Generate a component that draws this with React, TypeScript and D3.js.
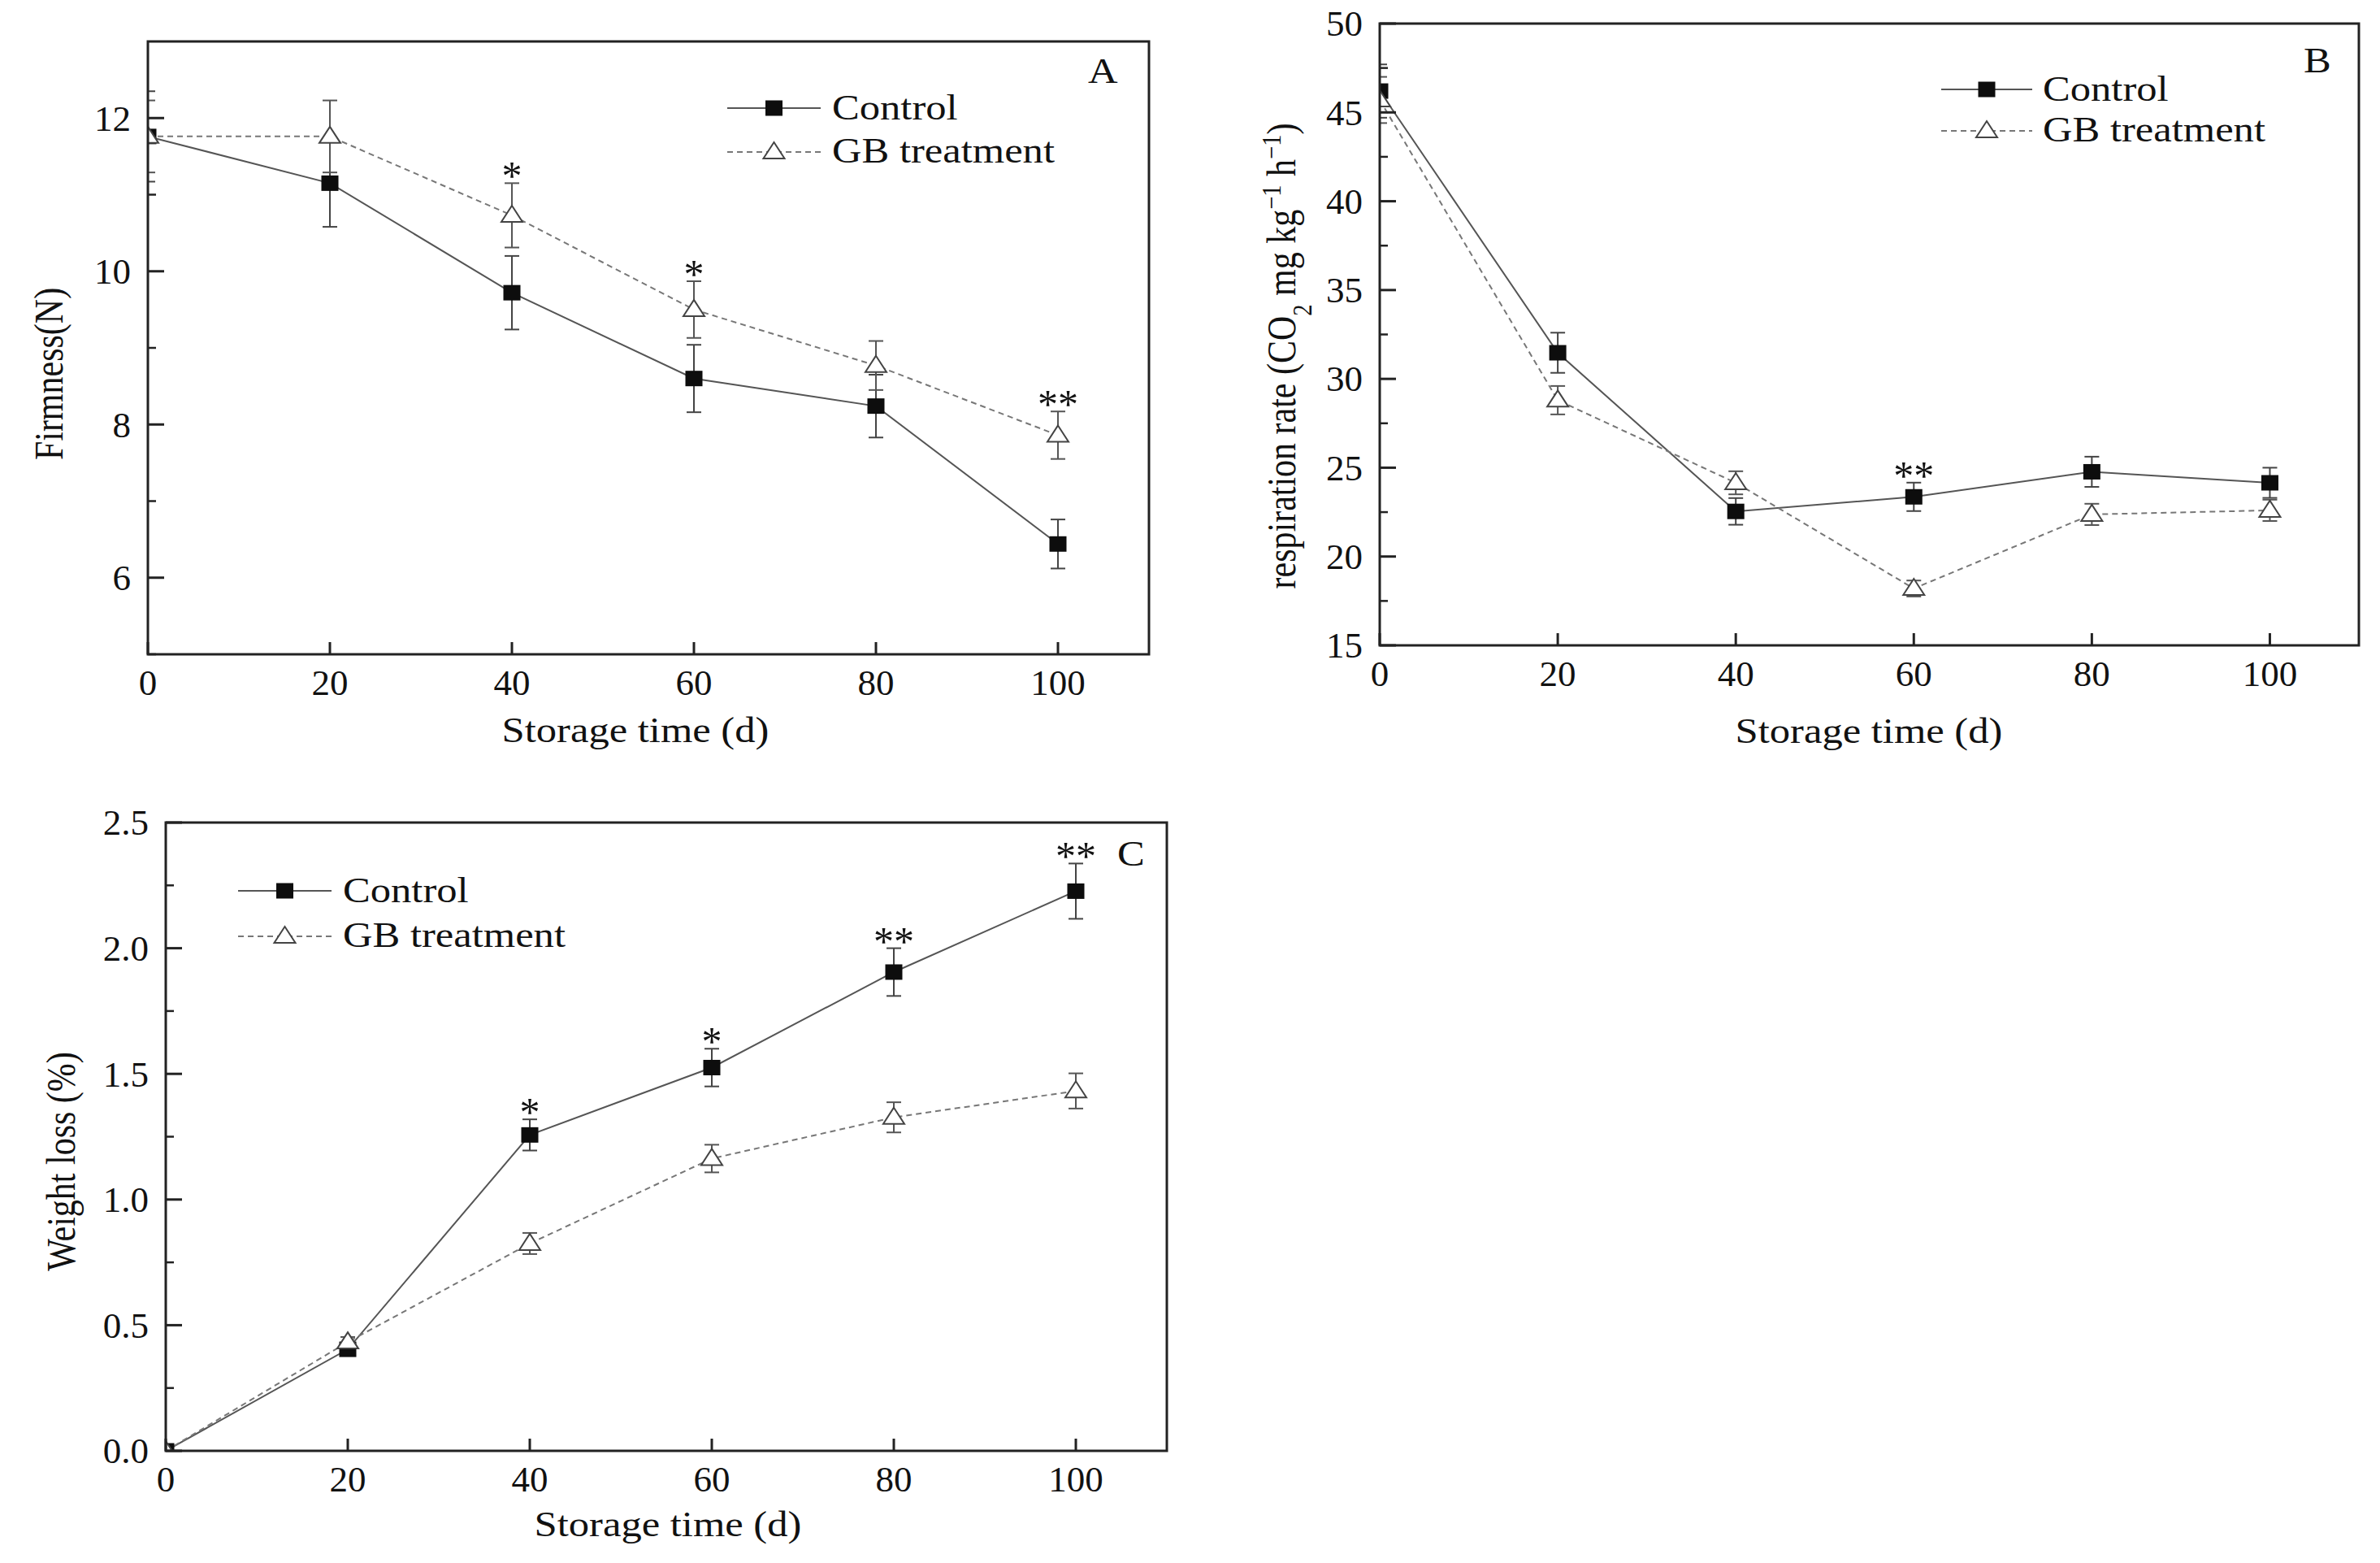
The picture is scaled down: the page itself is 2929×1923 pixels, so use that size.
import React from "react";
import * as d3 from "d3";

// storage days
const days = [0, 20, 40, 60, 80, 100];
const xTicks = [0, 20, 40, 60, 80, 100];

// A: firmness (N)
const firmControl = [11.76, 11.15, 9.72, 8.6, 8.24, 6.44];
const firmControlErr = [0.59, 0.57, 0.48, 0.44, 0.41, 0.32];
const firmGB = [11.76, 11.76, 10.73, 9.5, 8.77, 7.86];
const firmGBErr = [0.47, 0.47, 0.42, 0.37, 0.32, 0.31];
const firmSig = ["", "", "*", "*", "", "**"];
const firmTicks = [6, 8, 10, 12];
const firmMinor = [5, 7, 9, 11];

// B: respiration rate
const respControl = [46.2, 31.47, 22.54, 23.36, 24.77, 24.15];
const respControlErr = [1.5, 1.13, 0.75, 0.8, 0.85, 0.85];
const respGB = [45.7, 28.8, 24.15, 18.2, 22.37, 22.6];
const respGBErr = [1.3, 0.8, 0.65, 0.45, 0.6, 0.6];
const respSig = ["", "", "", "**", "", ""];
const respTicks = [15, 20, 25, 30, 35, 40, 45, 50];
const respMinor = [17.5, 22.5, 27.5, 32.5, 37.5, 42.5, 47.5];

// C: weight loss (%)
const wlControl = [0, 0.404, 1.257, 1.525, 1.905, 2.227];
const wlControlErr = [0, 0.015, 0.062, 0.075, 0.095, 0.11];
const wlGB = [0, 0.433, 0.825, 1.163, 1.327, 1.432];
const wlGBErr = [0, 0.02, 0.042, 0.055, 0.06, 0.07];
const wlSig = ["", "", "*", "*", "**", "**"];
const wlTicks = [0, 0.5, 1, 1.5, 2, 2.5];
const wlMinor = [0.25, 0.75, 1.25, 1.75, 2.25];

const FONT = "'Liberation Serif', 'Times New Roman', serif";
const INK = "#111";
const STRETCH = 1.15;

interface PanelSpec {
  id: string;
  box: { left: number; right: number; top: number; bottom: number };
  yDomain: [number, number];
  yTicks: number[];
  yMinor: number[];
  yFormat: (v: number) => string;
  control: number[];
  controlErr: number[];
  gb: number[];
  gbErr: number[];
  sig: string[];
  letter: string;
  letterPos: [number, number];
  legend: { x0: number; x1: number; y1: number; y2: number; textX: number };
  xTitle: [number, number];
  yTitle: { x: number; y: number; content: React.ReactNode };
}

const panels: PanelSpec[] = [
  {
    id: "A",
    box: { left: 182, right: 1414, top: 51, bottom: 805 },
    yDomain: [5, 13],
    yTicks: firmTicks,
    yMinor: firmMinor,
    yFormat: (v) => String(v),
    control: firmControl,
    controlErr: firmControlErr,
    gb: firmGB,
    gbErr: firmGBErr,
    sig: firmSig,
    letter: "A",
    letterPos: [1339, 102],
    legend: { x0: 895, x1: 1010, y1: 133, y2: 187, textX: 1024 },
    xTitle: [782, 913],
    yTitle: { x: 77, y: 460, content: "Firmness(N)" },
  },
  {
    id: "B",
    box: { left: 1698, right: 2903, top: 29, bottom: 794 },
    yDomain: [15, 50],
    yTicks: respTicks,
    yMinor: respMinor,
    yFormat: (v) => String(v),
    control: respControl,
    controlErr: respControlErr,
    gb: respGB,
    gbErr: respGBErr,
    sig: respSig,
    letter: "B",
    letterPos: [2835, 89],
    legend: { x0: 2389, x1: 2501, y1: 110, y2: 161, textX: 2514 },
    xTitle: [2300, 914],
    yTitle: {
      x: 1594,
      y: 438,
      content: (
        <>
          {"respiration rate (CO"}
          <tspan baselineShift="sub" fontSize="0.68em">2</tspan>
          {" mg kg"}
          <tspan baselineShift="super" fontSize="0.68em">{"\u22121"}</tspan>
          {" h"}
          <tspan baselineShift="super" fontSize="0.68em">{"\u22121"}</tspan>
          {")"}
        </>
      ),
    },
  },
  {
    id: "C",
    box: { left: 204, right: 1436, top: 1012, bottom: 1785 },
    yDomain: [0, 2.5],
    yTicks: wlTicks,
    yMinor: wlMinor,
    yFormat: d3.format(".1f"),
    control: wlControl,
    controlErr: wlControlErr,
    gb: wlGB,
    gbErr: wlGBErr,
    sig: wlSig,
    letter: "C",
    letterPos: [1375, 1065],
    legend: { x0: 293, x1: 408, y1: 1096, y2: 1152, textX: 422 },
    xTitle: [822, 1890],
    yTitle: { x: 92, y: 1429, content: "Weight loss (%)" },
  },
];

const Square = ({ x, y }: { x: number; y: number }) => (
  <rect x={x - 10.5} y={y - 9.5} width={21} height={19} fill="#0d0d0d" />
);

const Triangle = ({ x, y }: { x: number; y: number }) => (
  <path
    d={`M${x},${y - 12}L${x + 13},${y + 8}L${x - 13},${y + 8}Z`}
    fill="#fff"
    stroke="#444"
    strokeWidth={2}
  />
);

const StretchText = ({
  x,
  y,
  size,
  anchor = "start",
  children,
}: {
  x: number;
  y: number;
  size: number;
  anchor?: "start" | "middle" | "end";
  children: React.ReactNode;
}) => (
  <text
    transform={`translate(${x},${y}) scale(${STRETCH},1)`}
    textAnchor={anchor}
    fontSize={size}
    fill={INK}
  >
    {children}
  </text>
);

const Panel = ({ p }: { p: PanelSpec }) => {
  const { left, right, top, bottom } = p.box;
  const x = d3.scaleLinear().domain([0, 110]).range([left, right]);
  const y = d3.scaleLinear().domain(p.yDomain).range([bottom, top]);

  const line = d3
    .line<number>()
    .x((_, i) => x(days[i]))
    .y((v) => y(v));

  const errorBars = (vals: number[], errs: number[], color: string) =>
    vals.map((v, i) =>
      errs[i] > 0 ? (
        <g key={i} stroke={color} strokeWidth={2}>
          <line x1={x(days[i])} x2={x(days[i])} y1={y(v - errs[i])} y2={y(v + errs[i])} />
          <line x1={x(days[i]) - 9} x2={x(days[i]) + 9} y1={y(v - errs[i])} y2={y(v - errs[i])} />
          <line x1={x(days[i]) - 9} x2={x(days[i]) + 9} y1={y(v + errs[i])} y2={y(v + errs[i])} />
        </g>
      ) : null
    );

  const clipId = `clip-${p.id}`;
  const lg = p.legend;
  const lgMid = (lg.x0 + lg.x1) / 2;

  return (
    <g>
      <defs>
        <clipPath id={clipId}>
          <rect x={left} y={top} width={right - left} height={bottom - top} />
        </clipPath>
      </defs>

      <g clipPath={`url(#${clipId})`}>
        <path d={line(p.control) || ""} fill="none" stroke="#555" strokeWidth={2} />
        <path
          d={line(p.gb) || ""}
          fill="none"
          stroke="#777"
          strokeWidth={2}
          strokeDasharray="7 5"
        />
        {errorBars(p.control, p.controlErr, "#444")}
        {errorBars(p.gb, p.gbErr, "#555")}
        {p.control.map((v, i) => (
          <Square key={`c${i}`} x={x(days[i])} y={y(v)} />
        ))}
        {p.gb.map((v, i) => (
          <Triangle key={`g${i}`} x={x(days[i])} y={y(v)} />
        ))}
      </g>

      {/* significance marks */}
      {p.sig.map((s, i) => {
        if (!s) return null;
        const capY = Math.min(
          y(p.control[i] + p.controlErr[i]),
          y(p.gb[i] + p.gbErr[i])
        );
        const cy = capY - 16;
        return (
          <text
            key={`s${i}`}
            x={x(days[i])}
            y={cy + 24}
            textAnchor="middle"
            fontSize={50}
            fill={INK}
          >
            {s}
          </text>
        );
      })}

      {/* frame */}
      <rect
        x={left}
        y={top}
        width={right - left}
        height={bottom - top}
        fill="none"
        stroke="#222"
        strokeWidth={3}
      />

      {/* x ticks */}
      {xTicks.map((t) => (
        <g key={`xt${t}`}>
          <line x1={x(t)} x2={x(t)} y1={bottom} y2={bottom - 15} stroke="#222" strokeWidth={3} />
          <text x={x(t)} y={bottom + 50} textAnchor="middle" fontSize={45} fill={INK}>
            {t}
          </text>
        </g>
      ))}

      {/* y ticks */}
      {p.yTicks.map((t) => (
        <g key={`yt${t}`}>
          <line x1={left} x2={left + 20} y1={y(t)} y2={y(t)} stroke="#222" strokeWidth={3} />
          <text
            x={left - 21}
            y={y(t)}
            dy="0.34em"
            textAnchor="end"
            fontSize={45}
            fill={INK}
          >
            {p.yFormat(t)}
          </text>
        </g>
      ))}
      {p.yMinor.map((t) => (
        <line
          key={`ym${t}`}
          x1={left}
          x2={left + 10}
          y1={y(t)}
          y2={y(t)}
          stroke="#222"
          strokeWidth={2.5}
        />
      ))}

      {/* titles */}
      <StretchText x={p.xTitle[0]} y={p.xTitle[1]} size={44} anchor="middle">
        Storage time (d)
      </StretchText>
      <text
        transform={`translate(${p.yTitle.x},${p.yTitle.y}) rotate(-90) scale(1,1.2)`}
        textAnchor="middle"
        fontSize={42}
        fill={INK}
      >
        {p.yTitle.content}
      </text>

      <StretchText x={p.letterPos[0]} y={p.letterPos[1]} size={44}>
        {p.letter}
      </StretchText>

      {/* legend */}
      <line x1={lg.x0} x2={lg.x1} y1={lg.y1} y2={lg.y1} stroke="#555" strokeWidth={2} />
      <Square x={lgMid} y={lg.y1} />
      <StretchText x={lg.textX} y={lg.y1 + 14} size={44}>
        Control
      </StretchText>
      <line
        x1={lg.x0}
        x2={lg.x1}
        y1={lg.y2}
        y2={lg.y2}
        stroke="#777"
        strokeWidth={2}
        strokeDasharray="7 5"
      />
      <Triangle x={lgMid} y={lg.y2} />
      <StretchText x={lg.textX} y={lg.y2 + 13} size={44}>
        GB treatment
      </StretchText>
    </g>
  );
};

const App: React.FC = () => {
  return (
    <div style={{ position: "absolute", left: 0, top: 0 }}>
      <svg
        width={2929}
        height={1923}
        style={{ display: "block", background: "#fff", fontFamily: FONT }}
      >
        <rect width={2929} height={1923} fill="#fff" />
        {panels.map((p) => (
          <Panel key={p.id} p={p} />
        ))}
      </svg>
    </div>
  );
};

export default App;
